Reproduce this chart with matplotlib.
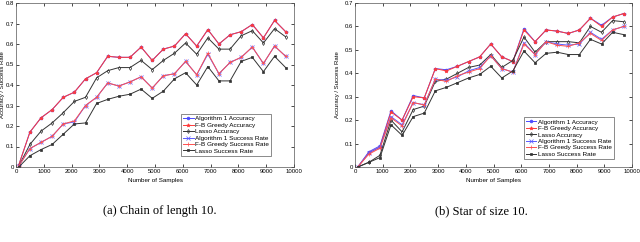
import matplotlib
matplotlib.use('Agg')
import matplotlib.pyplot as plt

samples = list(range(100, 10000, 400))

# (a) chain of length 10
chain_alg1_acc = [0.01, 0.17, 0.24, 0.28, 0.34, 0.365, 0.43, 0.46, 0.54, 0.535, 0.535, 0.585, 0.52,
                  0.575, 0.59, 0.65, 0.59, 0.67, 0.60, 0.645, 0.66, 0.695, 0.63, 0.715, 0.66]
chain_fb_acc = [0.01, 0.17, 0.24, 0.28, 0.34, 0.365, 0.43, 0.46, 0.54, 0.535, 0.535, 0.585, 0.52,
                0.575, 0.59, 0.65, 0.59, 0.67, 0.60, 0.645, 0.66, 0.695, 0.63, 0.715, 0.66]
chain_lasso_acc = [0.005, 0.11, 0.175, 0.215, 0.265, 0.32, 0.34, 0.435, 0.47, 0.485, 0.485, 0.52, 0.475,
                   0.52, 0.555, 0.605, 0.55, 0.63, 0.575, 0.575, 0.64, 0.665, 0.605, 0.675, 0.635]
chain_alg1_sr = [0.005, 0.09, 0.12, 0.15, 0.21, 0.22, 0.30, 0.34, 0.41, 0.395, 0.415, 0.44, 0.385,
                 0.445, 0.455, 0.515, 0.45, 0.55, 0.455, 0.51, 0.535, 0.585, 0.505, 0.59, 0.54]
chain_fb_sr = [0.005, 0.09, 0.12, 0.15, 0.21, 0.225, 0.30, 0.34, 0.41, 0.395, 0.415, 0.44, 0.385,
               0.445, 0.455, 0.515, 0.45, 0.555, 0.455, 0.51, 0.535, 0.585, 0.505, 0.59, 0.54]
chain_lasso_sr = [0.0, 0.055, 0.085, 0.11, 0.16, 0.21, 0.215, 0.31, 0.33, 0.345, 0.355, 0.38, 0.335,
                  0.37, 0.43, 0.46, 0.40, 0.49, 0.42, 0.42, 0.515, 0.535, 0.465, 0.54, 0.485]

# (b) star of size 10
star_alg1_acc = [0.0, 0.065, 0.09, 0.24, 0.20, 0.305, 0.295, 0.42, 0.415, 0.43, 0.45, 0.47, 0.525,
                 0.47, 0.45, 0.59, 0.535, 0.585, 0.58, 0.57, 0.585, 0.635, 0.605, 0.64, 0.655]
star_fb_acc = [0.0, 0.06, 0.085, 0.235, 0.20, 0.30, 0.295, 0.42, 0.41, 0.43, 0.45, 0.47, 0.525,
               0.47, 0.45, 0.585, 0.535, 0.585, 0.58, 0.57, 0.585, 0.635, 0.60, 0.64, 0.655]
star_lasso_acc = [0.0, 0.02, 0.05, 0.20, 0.15, 0.245, 0.26, 0.365, 0.375, 0.40, 0.425, 0.435, 0.48,
                  0.425, 0.455, 0.555, 0.49, 0.535, 0.535, 0.535, 0.53, 0.60, 0.575, 0.625, 0.62]
star_alg1_sr = [0.0, 0.06, 0.085, 0.215, 0.18, 0.275, 0.265, 0.375, 0.37, 0.385, 0.41, 0.425, 0.475,
                0.42, 0.405, 0.53, 0.48, 0.535, 0.525, 0.52, 0.525, 0.575, 0.545, 0.585, 0.60]
star_fb_sr = [0.0, 0.055, 0.08, 0.21, 0.175, 0.275, 0.265, 0.375, 0.365, 0.39, 0.405, 0.42, 0.475,
              0.42, 0.405, 0.525, 0.48, 0.535, 0.52, 0.515, 0.53, 0.57, 0.54, 0.585, 0.60]
star_lasso_sr = [0.0, 0.02, 0.04, 0.18, 0.135, 0.215, 0.23, 0.325, 0.34, 0.36, 0.38, 0.395, 0.43,
                 0.38, 0.41, 0.495, 0.445, 0.485, 0.49, 0.48, 0.48, 0.545, 0.525, 0.575, 0.565]

labels = ['Algorithm 1 Accuracy', 'F-B Greedy Accuracy', 'Lasso Accuracy',
          'Algorithm 1 Success Rate', 'F-B Greedy Success Rate', 'Lasso Success Rate']
colors = ['#4a4aff', '#ff3a3a', '#333333', '#5a5aff', '#ff5050', '#333333']
markers = ['o', '*', 'd', 'x', '+', 's']
msizes = [2.0, 2.6, 2.0, 2.2, 2.4, 1.6]

plt.rcParams['font.family'] = ['Liberation Sans', 'DejaVu Sans']

fig = plt.figure(figsize=(6.4, 2.42), dpi=100)
ax1 = fig.add_axes([16/640, 1-167/242, 278/640, 164/242])
ax2 = fig.add_axes([355/640, 1-167/242, 277/640, 164/242])

def draw(ax, series, ymax, legend_box, ylab_x):
    for s, lab, c, m, ms in zip(series, labels, colors, markers, msizes):
        mfc = 'none' if m in ('d',) else c
        ax.plot(samples, s, color=c, marker=m, markersize=ms, linewidth=0.7,
                markerfacecolor=mfc, markeredgewidth=0.5, label=lab)
    ax.set_xlim(0, 10000)
    ax.set_ylim(0, ymax)
    ax.set_xticks(range(0, 10001, 1000))
    ax.set_yticks([i / 10 for i in range(int(round(ymax * 10)) + 1)])
    ax.set_yticklabels(['0'] + ['%.1f' % (i / 10) for i in range(1, int(round(ymax * 10)) + 1)])
    ax.tick_params(direction='in', length=2, width=0.5, labelsize=4.3, pad=1.5,
                   top=True, right=True)
    for sp in ax.spines.values():
        sp.set_linewidth(0.5)
        sp.set_color('#555555')
    ax.set_xlabel('Number of Samples', fontsize=4.5, labelpad=3)
    ax.set_ylabel('Accuracy / Success Rate', fontsize=4.3)
    ax.yaxis.set_label_coords(ylab_x, 0.5)
    leg = ax.legend(loc='lower left', bbox_to_anchor=legend_box, fontsize=4.6,
                    frameon=True, fancybox=False, borderpad=0.3, labelspacing=0.15,
                    handlelength=1.6, handletextpad=0.3, borderaxespad=0)
    leg.get_frame().set_edgecolor('#333333')
    leg.get_frame().set_linewidth(0.5)

draw(ax1, [chain_alg1_acc, chain_fb_acc, chain_lasso_acc,
           chain_alg1_sr, chain_fb_sr, chain_lasso_sr], 0.8, (0.595, 0.07), -0.038)
draw(ax2, [star_alg1_acc, star_fb_acc, star_lasso_acc,
           star_alg1_sr, star_fb_sr, star_lasso_sr], 0.7, (0.61, 0.05), -0.055)

fig.text(160/640, 1-211/242, '(a) Chain of length 10.', fontsize=9,
         family='Liberation Serif', ha='center', va='center')
fig.text(481/640, 1-211/242, '(b) Star of size 10.', fontsize=9,
         family='Liberation Serif', ha='center', va='center')

fig.savefig('out.png', dpi=100)
